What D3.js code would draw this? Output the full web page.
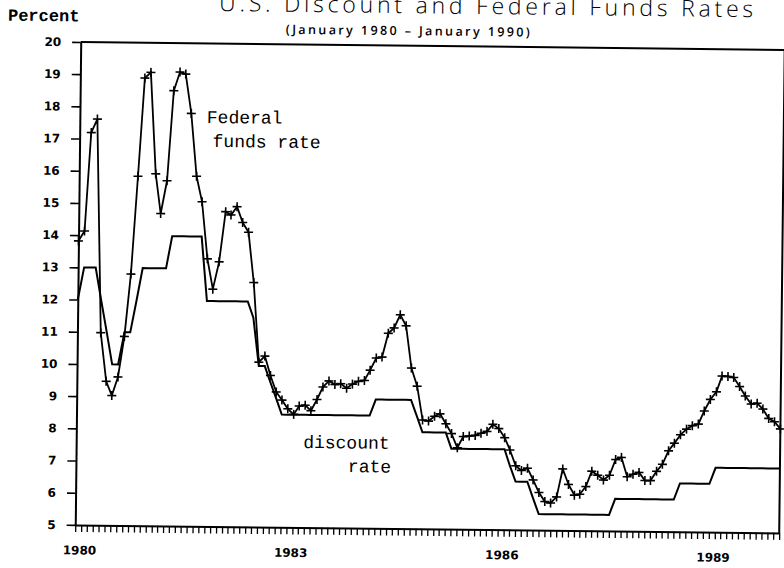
<!DOCTYPE html>
<html>
<head>
<meta charset="utf-8">
<script src="https://cdn.jsdelivr.net/npm/d3@7"></script>
<style>
  body { margin: 0; background: #fff; }
  svg { display: block; }
  .axis path, .axis line { stroke: #000; }
  .axis text { font-family: "DejaVu Sans", sans-serif; font-weight: bold; font-size: 12px; fill: #000; }
  .note { font-family: "Liberation Mono", "DejaVu Sans Mono", monospace; font-size: 18px; fill: #000; }
</style>
</head>
<body>
<svg id="chart" width="784" height="568"></svg>
<script>
// monthly values, January 1980 .. January 1990
var startMonth = new Date(1980, 0, 1);
var endMonth = new Date(1990, 0, 1);
var yearLabels = [1980, 1983, 1986, 1989];
var yTicks = [5, 6, 7, 8, 9, 10, 11, 12, 13, 14, 15, 16, 17, 18, 19, 20];

var fedFunds = [
  13.82, 14.13, 17.19, 17.61, 10.98, 9.47, 9.03, 9.61, 10.87, 12.81, 15.85, 18.90,  // 1980
  19.08, 15.93, 14.70, 15.72, 18.52, 19.10, 19.04, 17.82, 15.87, 15.08, 13.31, 12.37, // 1981
  13.22, 14.78, 14.68, 14.94, 14.45, 14.15, 12.59, 10.12, 10.31, 9.71, 9.20, 8.95,   // 1982
  8.68, 8.51, 8.77, 8.80, 8.63, 8.98, 9.37, 9.56, 9.45, 9.48, 9.34, 9.47,            // 1983
  9.56, 9.59, 9.91, 10.29, 10.32, 11.06, 11.23, 11.64, 11.30, 9.99, 9.43, 8.38,      // 1984
  8.35, 8.50, 8.58, 8.27, 7.97, 7.53, 7.88, 7.90, 7.92, 7.99, 8.05, 8.27,            // 1985
  8.14, 7.86, 7.48, 6.99, 6.85, 6.92, 6.56, 6.17, 5.89, 5.85, 6.04, 6.91,            // 1986
  6.43, 6.10, 6.13, 6.37, 6.85, 6.73, 6.58, 6.73, 7.22, 7.29, 6.69, 6.77,            // 1987
  6.83, 6.58, 6.58, 6.87, 7.09, 7.51, 7.75, 8.01, 8.19, 8.30, 8.35, 8.76,            // 1988
  9.12, 9.36, 9.85, 9.84, 9.81, 9.53, 9.24, 8.99, 9.02, 8.84, 8.55, 8.45,            // 1989
  8.23                                                                               // Jan 1990
];

var discountRate = [
  12, 13, 13, 13, 12, 11, 10, 10, 11, 11, 12, 13,            // 1980
  13, 13, 13, 13, 14, 14, 14, 14, 14, 14, 12, 12,            // 1981
  12, 12, 12, 12, 12, 12, 11.5, 10, 10, 9.5, 9, 8.5,         // 1982
  8.5, 8.5, 8.5, 8.5, 8.5, 8.5, 8.5, 8.5, 8.5, 8.5, 8.5, 8.5, // 1983
  8.5, 8.5, 8.5, 9, 9, 9, 9, 9, 9, 9, 8.5, 8,               // 1984
  8, 8, 8, 8, 7.5, 7.5, 7.5, 7.5, 7.5, 7.5, 7.5, 7.5,        // 1985
  7.5, 7.5, 7, 6.5, 6.5, 6.5, 6, 5.5, 5.5, 5.5, 5.5, 5.5,    // 1986
  5.5, 5.5, 5.5, 5.5, 5.5, 5.5, 5.5, 5.5, 6, 6, 6, 6,        // 1987
  6, 6, 6, 6, 6, 6, 6, 6.5, 6.5, 6.5, 6.5, 6.5,              // 1988
  6.5, 7, 7, 7, 7, 7, 7, 7, 7, 7, 7, 7,                      // 1989
  7                                                          // Jan 1990
];

var months = d3.timeMonth.range(startMonth, d3.timeMonth.offset(endMonth, 1));

var svg = d3.select("#chart");
var margin = {top: 45.5, right: 2, bottom: 39.5, left: 78};
var width = +svg.attr("width") - margin.left - margin.right;
var height = +svg.attr("height") - margin.top - margin.bottom;

// the original is a slightly crooked scan
var page = svg.append("g").attr("transform", "rotate(0.65, 392, 284)");

var x = d3.scaleTime().domain([startMonth, endMonth]).range([margin.left, margin.left + width]);
var y = d3.scaleLinear().domain([5, 20]).range([margin.top + height, margin.top]);

// titles (top of the main title is cut off in the original)
page.append("text")
  .attr("x", 216).attr("y", 13)
  .attr("textLength", 534).attr("lengthAdjust", "spacing")
  .style("font-family", "'Open Sans', sans-serif")
  .style("font-weight", 300)
  .style("font-size", "23px")
  .text("U.S. Discount and Federal Funds Rates");

page.append("text")
  .attr("x", 283).attr("y", 35)
  .attr("textLength", 244).attr("lengthAdjust", "spacing")
  .style("font-family", "'Open Sans', sans-serif")
  .style("font-weight", 600)
  .style("font-size", "12.5px")
  .text("(January 1980 \u2013 January 1990)");

page.append("text")
  .attr("x", 5).attr("y", 25)
  .style("font-family", "'Liberation Mono', monospace")
  .style("font-weight", "bold")
  .style("font-size", "17px")
  .text("Percent");

// axes
var yAxis = d3.axisLeft(y).tickValues(yTicks).tickSize(8.6).tickSizeOuter(0).tickPadding(11).tickFormat(d3.format("d"));
var xAxis = d3.axisBottom(x).ticks(d3.timeMonth.every(1)).tickSize(7).tickSizeOuter(0).tickPadding(14)
  .tickFormat(function(d) {
    return (d.getMonth() === 0 && yearLabels.indexOf(d.getFullYear()) >= 0) ? d.getFullYear() : "";
  });

var gy = page.append("g").attr("class", "axis")
  .attr("transform", "translate(" + margin.left + ",0)")
  .call(yAxis);
gy.select(".domain").attr("stroke-width", 2);
gy.selectAll(".tick line").attr("stroke-width", 1.6);

var gx = page.append("g").attr("class", "axis")
  .attr("transform", "translate(0," + (margin.top + height) + ")")
  .call(xAxis);
gx.select(".domain").attr("stroke-width", 2);
gx.selectAll(".tick line").attr("stroke-width", 1.3);
gx.selectAll(".tick text").attr("dx", 4);

// top and right frame
page.append("path")
  .attr("d", "M" + margin.left + "," + margin.top + "H" + (margin.left + width) + "V" + (margin.top + height))
  .attr("fill", "none").attr("stroke", "#000").attr("stroke-width", 2);

// discount rate
var rateLine = d3.line()
  .x(function(d, i) { return x(months[i]); })
  .y(function(d) { return y(d); });

page.append("path")
  .datum(discountRate)
  .attr("d", rateLine)
  .attr("fill", "none").attr("stroke", "#000").attr("stroke-width", 2);

// federal funds rate with + markers
page.append("path")
  .datum(fedFunds)
  .attr("d", rateLine)
  .attr("fill", "none").attr("stroke", "#000").attr("stroke-width", 1.8);

page.append("g").selectAll("path")
  .data(fedFunds)
  .enter()
  .append("path")
  .attr("d", function(d, i) {
    var px = x(months[i]), py = y(d);
    return "M" + (px - 4.5) + "," + py + "h9M" + px + "," + (py - 4.5) + "v9";
  })
  .attr("stroke", "#000").attr("stroke-width", 1.6);

// labels on the lines
page.append("text").attr("class", "note").attr("x", 205).attr("y", 125).text("Federal");
page.append("text").attr("class", "note").attr("x", 211).attr("y", 149).text("funds rate");
page.append("text").attr("class", "note").attr("x", 305).attr("y", 449).text("discount");
page.append("text").attr("class", "note").attr("x", 350).attr("y", 472.5).text("rate");
</script>
</body>
</html>
